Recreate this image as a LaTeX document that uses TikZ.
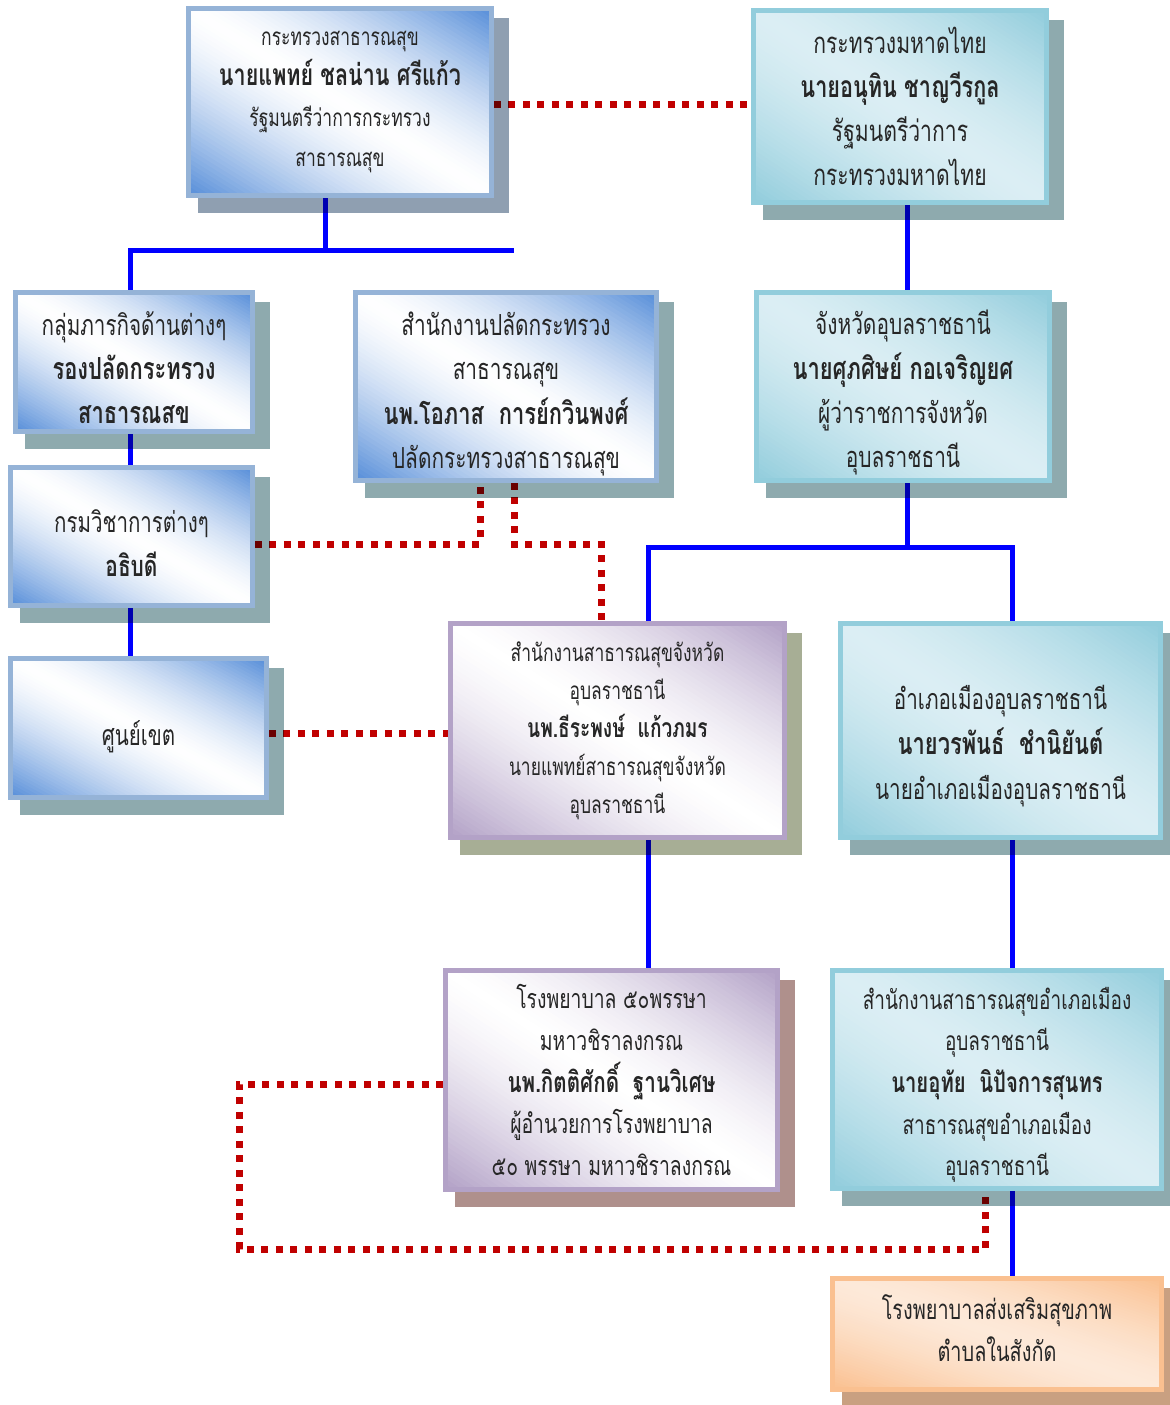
\documentclass[tikz,border=0pt]{standalone}
\usepackage{fontspec}
\newfontfamily\thai[Script=Thai,FakeStretch=0.72]{Loma}
\usetikzlibrary{backgrounds,calc}
\definecolor{edgeblue}{HTML}{95B3D7}
\definecolor{cornblue}{HTML}{588FD9}
\definecolor{edgecyan}{HTML}{92CDDC}
\definecolor{midcyan}{HTML}{DBEEF4}
\definecolor{edgepurple}{HTML}{B3A2C7}
\definecolor{edgeorange}{HTML}{FAC090}
\definecolor{midorange}{HTML}{FDE9D9}
\definecolor{shblue}{HTML}{8F9FB1}
\definecolor{shteal}{HTML}{8EAAAE}
\definecolor{sholive}{HTML}{A7AE95}
\definecolor{shrose}{HTML}{AF908C}
\definecolor{shtan}{HTML}{C9A081}
\definecolor{dotred}{HTML}{C00000}
\newcommand\nm[1]{{\fontsize{\bsz}{0}\bfseries\selectfont#1}}
\newcommand\sk[1]{\rule{0pt}{#1}}
\begin{document}
\begin{tikzpicture}[x=0.02cm,y=-0.02cm,
	box/.style={draw=#1,line width=0.1cm,align=center,inner sep=0pt,text=black!85},
	lead/.style n args={3}{font=\thai\fontsize{#1}{#3}\selectfont\def\bsz{#2}},
	lift/.style={execute at end node={\rule[-#1]{0pt}{#1}}},
	diag/.style 2 args={path picture={
		\coordinate (pc) at (path picture bounding box.center);
		\coordinate (pu) at ($(path picture bounding box.east)-(pc)$);
		\coordinate (pv) at ($(path picture bounding box.north)-(pc)$);
		\foreach \k in {40,39,...,1}{
			\pgfmathsetmacro\ca{3+\k/20}
			\pgfmathsetmacro\cb{3-\k/20}
			\pgfmathsetmacro\mix{100*(\k/40)^1.5}
			\fill[#1!\mix!#2] ($(pc)-3*(pu)+\ca*(pv)$) -- ($(pc)+3*(pu)-\cb*(pv)$) -- ($(pc)+3*(pu)-\ca*(pv)$) -- ($(pc)-3*(pu)+\cb*(pv)$) -- cycle;
		}}},
	bluebox/.style={box=edgeblue,diag={cornblue}{white}},
	cyanbox/.style={box=edgecyan,diag={edgecyan}{midcyan}},
	purplebox/.style={box=edgepurple,diag={edgepurple}{white}},
	orangebox/.style={box=edgeorange,diag={edgeorange}{midorange}},
	bline/.style={blue,line width=0.1cm},
	rline/.style={dotred,line width=0.14cm,dash pattern=on 0.14cm off 0.15cm}]
	\useasboundingbox (0,0) rectangle (1169,1405);
	\node[bluebox,lead={13.8}{17}{23pt},minimum width=6.06cm,minimum height=3.74cm] (moph) at (340,102) {กระทรวงสาธารณสุข\\\nm{นายแพทย์ ชลน่าน ศรีแก้ว}\\รัฐมนตรีว่าการกระทรวง\\สาธารณสุข};
	\node[cyanbox,lead={16.7}{17.1}{25pt},minimum width=5.86cm,minimum height=3.84cm] (moi) at (900,106.5) {กระทรวงมหาดไทย\\\nm{นายอนุทิน ชาญวีรกูล}\\รัฐมนตรีว่าการ\\กระทรวงมหาดไทย};
	\node[bluebox,lead={16.3}{17.3}{25pt},minimum width=4.74cm,minimum height=2.78cm] (deputy) at (134,362) {\sk{20.3pt}กลุ่มภารกิจด้านต่างๆ\\\nm{รองปลัดกระทรวง}\\\nm{สาธารณสข}};
	\node[bluebox,lead={16.5}{17.3}{25.3pt},minimum width=6.02cm,minimum height=3.76cm] (ops) at (506,386.5) {\sk{21.7pt}สำนักงานปลัดกระทรวง\\สาธารณสุข\\\nm{นพ.โอภาส\ \ การย์กวินพงศ์}\\ปลัดกระทรวงสาธารณสุข};
	\node[cyanbox,lead={16.5}{17.3}{25.3pt},minimum width=5.86cm,minimum height=3.76cm] (prov) at (903,386.5) {\sk{21.1pt}จังหวัดอุบลราชธานี\\\nm{นายศุภศิษย์ กอเจริญยศ}\\ผู้ว่าราชการจังหวัด\\อุบลราชธานี};
	\node[bluebox,lead={16.2}{16.5}{25pt},minimum width=4.84cm,minimum height=2.76cm] (dept) at (131.5,536.5) {\sk{20.8pt}กรมวิชาการต่างๆ\\\nm{อธิบดี}};
	\node[bluebox,lead={16.2}{16.5}{25pt},minimum width=5.12cm,minimum height=2.78cm] (zone) at (138.5,728) {\sk{23.7pt}ศูนย์เขต};
	\node[purplebox,lead={13.8}{15.1}{21.6pt},minimum width=6.68cm,minimum height=4.28cm] (pho) at (617.5,730.5) {สำนักงานสาธารณสุขจังหวัด\\อุบลราชธานี\\\nm{นพ.ธีระพงษ์\ \ แก้วภมร}\\นายแพทย์สาธารณสุขจังหวัด\\อุบลราชธานี};
	\node[cyanbox,lead={16.3}{17.3}{25.6pt},minimum width=6.4cm,minimum height=4.28cm] (district) at (1000.5,730.5) {\sk{31.7pt}อำเภอเมืองอุบลราชธานี\\\nm{นายวรพันธ์\ \ ชำนิยันต์}\\นายอำเภอเมืองอุบลราชธานี};
	\node[purplebox,lead={15.3}{16.3}{23.7pt},minimum width=6.64cm,minimum height=4.38cm] (hosp) at (611.5,1080) {โรงพยาบาล ๕๐พรรษา\\มหาวชิราลงกรณ\\\nm{นพ.กิตติศักดิ์\ \ ฐานวิเศษ}\\ผู้อำนวยการโรงพยาบาล\\๕๐ พรรษา มหาวชิราลงกรณ};
	\node[cyanbox,lead={15}{16}{23.7pt},minimum width=6.58cm,minimum height=4.36cm] (dho) at (997,1079.5) {\sk{18.7pt}สำนักงานสาธารณสุขอำเภอเมือง\\อุบลราชธานี\\\nm{นายอุทัย\ \ นิปัจการสุนทร}\\สาธารณสุขอำเภอเมือง\\อุบลราชธานี};
	\node[orangebox,lead={15.7}{16}{23.9pt},lift=7pt,minimum width=6.58cm,minimum height=2.22cm] (sth) at (997,1334) {โรงพยาบาลส่งเสริมสุขภาพ\\ตำบลในสังกัด};
	\begin{scope}[on background layer]
		\coordinate (hubM) at (325,251);
		\coordinate (hubL) at (130,251);
		\coordinate (hubR) at (514,251);
		\coordinate (hubP) at (907,547);
		\coordinate (hubPL) at (648,547);
		\coordinate (hubPR) at (1012,547);
		\draw[bline] (moph.south -| hubM) -- (hubM);
		\draw[bline] (deputy.north -| hubL) -- (hubL) -- (hubR);
		\draw[bline] (deputy.south -| hubL) -- (dept.north -| hubL);
		\draw[bline] (dept.south -| hubL) -- (zone.north -| hubL);
		\draw[bline] (moi.south -| hubP) -- (prov.north -| hubP);
		\draw[bline] (prov.south -| hubP) -- (hubP);
		\draw[bline] (pho.north -| hubPL) -- (hubPL) -- (hubPR) -- (district.north -| hubPR);
		\draw[bline] (pho.south -| hubPL) -- (hosp.north -| hubPL);
		\draw[bline] (district.south -| hubPR) -- (dho.north -| hubPR);
		\draw[bline] (dho.south -| hubPR) -- (sth.north -| hubPR);
		\coordinate (dotA) at (620,105);
		\coordinate (dotB) at (480,544);
		\coordinate (dotC) at (514,544);
		\coordinate (dotD) at (601,544);
		\coordinate (dotE) at (350,733);
		\coordinate (dotF) at (239,1084);
		\coordinate (dotG) at (239,1249);
		\coordinate (dotH) at (985,1249);
		\draw[rline] (moph.east |- dotA) -- (moi.west |- dotA);
		\draw[rline] (dept.east |- dotB) -- (dotB) -- (ops.south -| dotB);
		\draw[rline] (ops.south -| dotC) -- (dotC) -- (dotD) -- (pho.north -| dotD);
		\draw[rline] (zone.east |- dotE) -- (pho.west |- dotE);
		\draw[rline] (hosp.west |- dotF) -- (dotF) -- (dotG) -- (dotH) -- (dho.south -| dotH);
		\begin{scope}[blend mode=multiply]
			\foreach \n/\c in {moph/shblue,moi/shteal,deputy/shteal,ops/shteal,prov/shteal,dept/shteal,zone/shteal,pho/sholive,district/shteal,hosp/shrose,dho/shteal,sth/shtan}
				\fill[\c] ([shift={(12,12)}]\n.north west) rectangle ([shift={(15,15)}]\n.south east);
		\end{scope}
	\end{scope}
\end{tikzpicture}
\end{document}
